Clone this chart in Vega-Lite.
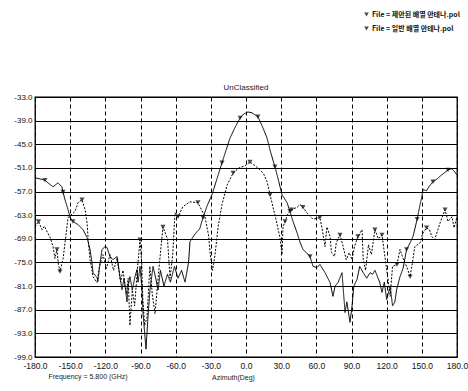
{
  "$schema": "https://vega.github.io/schema/vega-lite/v6.json",
  "width": 422,
  "height": 260,
  "autosize": {"type": "none"},
  "padding": {"left": 35, "top": 97, "right": 11, "bottom": 34},
  "background": "white",
  "title": {"text": "UnClassified", "fontSize": 8, "font": "Liberation Sans", "fontWeight": "normal", "color": "#222", "offset": 4, "dy": 85},
  "config": {
    "view": {"stroke": "black", "strokeWidth": 1.3},
    "axis": {"labelFont": "Liberation Sans", "labelColor": "#111", "labelFontSize": 8.5, "ticks": false, "domain": false, "gridColor": "black", "gridOpacity": 1, "gridWidth": 1}
  },
  "datasets": {
    "pattern": [
      {"series": "File = 제안된 배열 안테나.pol", "az": -180, "db": -53.5},
      {"series": "File = 제안된 배열 안테나.pol", "az": -175.7, "db": -53.8},
      {"series": "File = 제안된 배열 안테나.pol", "az": -171.5, "db": -54.1},
      {"series": "File = 제안된 배열 안테나.pol", "az": -168.9, "db": -54.8},
      {"series": "File = 제안된 배열 안테나.pol", "az": -164.6, "db": -55.8},
      {"series": "File = 제안된 배열 안테나.pol", "az": -160.4, "db": -54.8},
      {"series": "File = 제안된 배열 안테나.pol", "az": -157, "db": -55.8},
      {"series": "File = 제안된 배열 안테나.pol", "az": -156.1, "db": -57.1},
      {"series": "File = 제안된 배열 안테나.pol", "az": -154.4, "db": -59.1},
      {"series": "File = 제안된 배열 안테나.pol", "az": -151.8, "db": -61.6},
      {"series": "File = 제안된 배열 안테나.pol", "az": -150.1, "db": -63.6},
      {"series": "File = 제안된 배열 안테나.pol", "az": -147.6, "db": -64.6},
      {"series": "File = 제안된 배열 안테나.pol", "az": -143.3, "db": -65.4},
      {"series": "File = 제안된 배열 안테나.pol", "az": -139, "db": -66.7},
      {"series": "File = 제안된 배열 안테나.pol", "az": -135.6, "db": -68.7},
      {"series": "File = 제안된 배열 안테나.pol", "az": -133.1, "db": -71.7},
      {"series": "File = 제안된 배열 안테나.pol", "az": -131.4, "db": -75},
      {"series": "File = 제안된 배열 안테나.pol", "az": -130.5, "db": -77.6},
      {"series": "File = 제안된 배열 안테나.pol", "az": -127.1, "db": -78.8},
      {"series": "File = 제안된 배열 안테나.pol", "az": -126.3, "db": -79.8},
      {"series": "File = 제안된 배열 안테나.pol", "az": -124.5, "db": -75},
      {"series": "File = 제안된 배열 안테나.pol", "az": -122.8, "db": -71.7},
      {"series": "File = 제안된 배열 안테나.pol", "az": -120.3, "db": -71},
      {"series": "File = 제안된 배열 안테나.pol", "az": -118.6, "db": -71.2},
      {"series": "File = 제안된 배열 안테나.pol", "az": -116, "db": -73.5},
      {"series": "File = 제안된 배열 안테나.pol", "az": -113.5, "db": -74.3},
      {"series": "File = 제안된 배열 안테나.pol", "az": -110, "db": -73.5},
      {"series": "File = 제안된 배열 안테나.pol", "az": -109.2, "db": -75},
      {"series": "File = 제안된 배열 안테나.pol", "az": -107.5, "db": -78.6},
      {"series": "File = 제안된 배열 안테나.pol", "az": -105.8, "db": -81.9},
      {"series": "File = 제안된 배열 안테나.pol", "az": -104, "db": -79},
      {"series": "File = 제안된 배열 안테나.pol", "az": -101.5, "db": -85},
      {"series": "File = 제안된 배열 안테나.pol", "az": -100.5, "db": -81},
      {"series": "File = 제안된 배열 안테나.pol", "az": -99, "db": -78.6},
      {"series": "File = 제안된 배열 안테나.pol", "az": -97, "db": -82},
      {"series": "File = 제안된 배열 안테나.pol", "az": -94.7, "db": -78.6},
      {"series": "File = 제안된 배열 안테나.pol", "az": -93, "db": -76.8},
      {"series": "File = 제안된 배열 안테나.pol", "az": -92.1, "db": -80},
      {"series": "File = 제안된 배열 안테나.pol", "az": -90.4, "db": -76},
      {"series": "File = 제안된 배열 안테나.pol", "az": -88.7, "db": -81.9},
      {"series": "File = 제안된 배열 안테나.pol", "az": -87.9, "db": -87.7},
      {"series": "File = 제안된 배열 안테나.pol", "az": -86.2, "db": -93.8},
      {"series": "File = 제안된 배열 안테나.pol", "az": -85.3, "db": -97},
      {"series": "File = 제안된 배열 안테나.pol", "az": -83.6, "db": -88.7},
      {"series": "File = 제안된 배열 안테나.pol", "az": -81.9, "db": -81.9},
      {"series": "File = 제안된 배열 안테나.pol", "az": -79.3, "db": -76},
      {"series": "File = 제안된 배열 안테나.pol", "az": -77, "db": -79},
      {"series": "File = 제안된 배열 안테나.pol", "az": -75, "db": -82},
      {"series": "File = 제안된 배열 안테나.pol", "az": -73, "db": -77},
      {"series": "File = 제안된 배열 안테나.pol", "az": -70, "db": -81},
      {"series": "File = 제안된 배열 안테나.pol", "az": -67, "db": -78},
      {"series": "File = 제안된 배열 안테나.pol", "az": -64.5, "db": -80},
      {"series": "File = 제안된 배열 안테나.pol", "az": -61, "db": -76},
      {"series": "File = 제안된 배열 안테나.pol", "az": -58, "db": -79},
      {"series": "File = 제안된 배열 안테나.pol", "az": -55, "db": -77},
      {"series": "File = 제안된 배열 안테나.pol", "az": -52, "db": -80},
      {"series": "File = 제안된 배열 안테나.pol", "az": -49, "db": -75},
      {"series": "File = 제안된 배열 안테나.pol", "az": -47.8, "db": -69.7},
      {"series": "File = 제안된 배열 안테나.pol", "az": -44, "db": -68},
      {"series": "File = 제안된 배열 안테나.pol", "az": -41.8, "db": -67.2},
      {"series": "File = 제안된 배열 안테나.pol", "az": -39.5, "db": -66.5},
      {"series": "File = 제안된 배열 안테나.pol", "az": -36.7, "db": -63.6},
      {"series": "File = 제안된 배열 안테나.pol", "az": -33, "db": -60.5},
      {"series": "File = 제안된 배열 안테나.pol", "az": -29, "db": -57.8},
      {"series": "File = 제안된 배열 안테나.pol", "az": -25, "db": -54},
      {"series": "File = 제안된 배열 안테나.pol", "az": -20.5, "db": -49.7},
      {"series": "File = 제안된 배열 안테나.pol", "az": -17, "db": -46.5},
      {"series": "File = 제안된 배열 안테나.pol", "az": -13.6, "db": -43.4},
      {"series": "File = 제안된 배열 안테나.pol", "az": -9, "db": -40.5},
      {"series": "File = 제안된 배열 안테나.pol", "az": -5, "db": -38.3},
      {"series": "File = 제안된 배열 안테나.pol", "az": -2, "db": -37.3},
      {"series": "File = 제안된 배열 안테나.pol", "az": 1.7, "db": -36.8},
      {"series": "File = 제안된 배열 안테나.pol", "az": 5, "db": -37},
      {"series": "File = 제안된 배열 안테나.pol", "az": 10.2, "db": -38},
      {"series": "File = 제안된 배열 안테나.pol", "az": 14, "db": -40.5},
      {"series": "File = 제안된 배열 안테나.pol", "az": 17.9, "db": -43.4},
      {"series": "File = 제안된 배열 안테나.pol", "az": 21, "db": -47},
      {"series": "File = 제안된 배열 안테나.pol", "az": 24.7, "db": -50.7},
      {"series": "File = 제안된 배열 안테나.pol", "az": 28, "db": -54.5},
      {"series": "File = 제안된 배열 안테나.pol", "az": 30.7, "db": -57.8},
      {"series": "File = 제안된 배열 안테나.pol", "az": 35, "db": -59.8},
      {"series": "File = 제안된 배열 안테나.pol", "az": 37.5, "db": -62},
      {"series": "File = 제안된 배열 안테나.pol", "az": 40, "db": -64.5},
      {"series": "File = 제안된 배열 안테나.pol", "az": 43.5, "db": -67.4},
      {"series": "File = 제안된 배열 안테나.pol", "az": 46, "db": -69.8},
      {"series": "File = 제안된 배열 안테나.pol", "az": 48.6, "db": -71.7},
      {"series": "File = 제안된 배열 안테나.pol", "az": 51.5, "db": -72.5},
      {"series": "File = 제안된 배열 안테나.pol", "az": 54.6, "db": -73.5},
      {"series": "File = 제안된 배열 안테나.pol", "az": 57.2, "db": -76},
      {"series": "File = 제안된 배열 안테나.pol", "az": 60.6, "db": -76.3},
      {"series": "File = 제안된 배열 안테나.pol", "az": 63.1, "db": -75.5},
      {"series": "File = 제안된 배열 안테나.pol", "az": 67.4, "db": -77.6},
      {"series": "File = 제안된 배열 안테나.pol", "az": 71.7, "db": -80.1},
      {"series": "File = 제안된 배열 안테나.pol", "az": 74.2, "db": -83.6},
      {"series": "File = 제안된 배열 안테나.pol", "az": 76, "db": -81},
      {"series": "File = 제안된 배열 안테나.pol", "az": 78.5, "db": -80.1},
      {"series": "File = 제안된 배열 안테나.pol", "az": 81.9, "db": -77.6},
      {"series": "File = 제안된 배열 안테나.pol", "az": 84.5, "db": -87.7},
      {"series": "File = 제안된 배열 안테나.pol", "az": 86, "db": -85},
      {"series": "File = 제안된 배열 안테나.pol", "az": 88.7, "db": -90.2},
      {"series": "File = 제안된 배열 안테나.pol", "az": 90.4, "db": -86.2},
      {"series": "File = 제안된 배열 안테나.pol", "az": 92, "db": -81},
      {"series": "File = 제안된 배열 안테나.pol", "az": 94.7, "db": -79.3},
      {"series": "File = 제안된 배열 안테나.pol", "az": 97, "db": -76},
      {"series": "File = 제안된 배열 안테나.pol", "az": 100, "db": -77.6},
      {"series": "File = 제안된 배열 안테나.pol", "az": 103, "db": -79},
      {"series": "File = 제안된 배열 안테나.pol", "az": 105.8, "db": -77.6},
      {"series": "File = 제안된 배열 안테나.pol", "az": 108, "db": -78},
      {"series": "File = 제안된 배열 안테나.pol", "az": 110, "db": -77},
      {"series": "File = 제안된 배열 안테나.pol", "az": 114, "db": -80},
      {"series": "File = 제안된 배열 안테나.pol", "az": 116, "db": -82.6},
      {"series": "File = 제안된 배열 안테나.pol", "az": 118, "db": -80},
      {"series": "File = 제안된 배열 안테나.pol", "az": 120, "db": -84.4},
      {"series": "File = 제안된 배열 안테나.pol", "az": 123, "db": -81},
      {"series": "File = 제안된 배열 안테나.pol", "az": 125, "db": -86},
      {"series": "File = 제안된 배열 안테나.pol", "az": 127, "db": -85},
      {"series": "File = 제안된 배열 안테나.pol", "az": 128.5, "db": -81.9},
      {"series": "File = 제안된 배열 안테나.pol", "az": 131.4, "db": -78.6},
      {"series": "File = 제안된 배열 안테나.pol", "az": 134, "db": -76.5},
      {"series": "File = 제안된 배열 안테나.pol", "az": 137, "db": -71.7},
      {"series": "File = 제안된 배열 안테나.pol", "az": 140, "db": -70},
      {"series": "File = 제안된 배열 안테나.pol", "az": 142.5, "db": -68.4},
      {"series": "File = 제안된 배열 안테나.pol", "az": 146, "db": -64},
      {"series": "File = 제안된 배열 안테나.pol", "az": 148, "db": -61},
      {"series": "File = 제안된 배열 안테나.pol", "az": 150, "db": -58.3},
      {"series": "File = 제안된 배열 안테나.pol", "az": 151, "db": -56.5},
      {"series": "File = 제안된 배열 안테나.pol", "az": 154, "db": -56.8},
      {"series": "File = 제안된 배열 안테나.pol", "az": 156, "db": -55.8},
      {"series": "File = 제안된 배열 안테나.pol", "az": 159.5, "db": -54.5},
      {"series": "File = 제안된 배열 안테나.pol", "az": 163, "db": -53.8},
      {"series": "File = 제안된 배열 안테나.pol", "az": 166, "db": -53},
      {"series": "File = 제안된 배열 안테나.pol", "az": 169, "db": -52.3},
      {"series": "File = 제안된 배열 안테나.pol", "az": 172.3, "db": -51.5},
      {"series": "File = 제안된 배열 안테나.pol", "az": 175.6, "db": -51.2},
      {"series": "File = 제안된 배열 안테나.pol", "az": 178, "db": -52},
      {"series": "File = 제안된 배열 안테나.pol", "az": 180, "db": -52.8},
      {"series": "File = 일반 배열 안테나.pol", "az": -180, "db": -66},
      {"series": "File = 일반 배열 안테나.pol", "az": -177, "db": -64.6},
      {"series": "File = 일반 배열 안테나.pol", "az": -174, "db": -66.7},
      {"series": "File = 일반 배열 안테나.pol", "az": -172, "db": -65.8},
      {"series": "File = 일반 배열 안테나.pol", "az": -170, "db": -67},
      {"series": "File = 일반 배열 안테나.pol", "az": -167, "db": -68.7},
      {"series": "File = 일반 배열 안테나.pol", "az": -164.6, "db": -71},
      {"series": "File = 일반 배열 안테나.pol", "az": -163, "db": -74},
      {"series": "File = 일반 배열 안테나.pol", "az": -161.3, "db": -71.7},
      {"series": "File = 일반 배열 안테나.pol", "az": -160, "db": -75.5},
      {"series": "File = 일반 배열 안테나.pol", "az": -158.7, "db": -77.3},
      {"series": "File = 일반 배열 안테나.pol", "az": -156, "db": -74},
      {"series": "File = 일반 배열 안테나.pol", "az": -154.4, "db": -70},
      {"series": "File = 일반 배열 안테나.pol", "az": -151.8, "db": -63.6},
      {"series": "File = 일반 배열 안테나.pol", "az": -145.9, "db": -62.1},
      {"series": "File = 일반 배열 안테나.pol", "az": -143.3, "db": -59.8},
      {"series": "File = 일반 배열 안테나.pol", "az": -139.9, "db": -59.1},
      {"series": "File = 일반 배열 안테나.pol", "az": -137.3, "db": -61.6},
      {"series": "File = 일반 배열 안테나.pol", "az": -135.6, "db": -64.9},
      {"series": "File = 일반 배열 안테나.pol", "az": -134.8, "db": -68.4},
      {"series": "File = 일반 배열 안테나.pol", "az": -133.1, "db": -74.3},
      {"series": "File = 일반 배열 안테나.pol", "az": -131.4, "db": -76.8},
      {"series": "File = 일반 배열 안테나.pol", "az": -130.5, "db": -78.6},
      {"series": "File = 일반 배열 안테나.pol", "az": -127.1, "db": -80.1},
      {"series": "File = 일반 배열 안테나.pol", "az": -125, "db": -76},
      {"series": "File = 일반 배열 안테나.pol", "az": -122, "db": -73},
      {"series": "File = 일반 배열 안테나.pol", "az": -119, "db": -76.5},
      {"series": "File = 일반 배열 안테나.pol", "az": -116, "db": -73},
      {"series": "File = 일반 배열 안테나.pol", "az": -113, "db": -77},
      {"series": "File = 일반 배열 안테나.pol", "az": -110, "db": -74},
      {"series": "File = 일반 배열 안테나.pol", "az": -107, "db": -80},
      {"series": "File = 일반 배열 안테나.pol", "az": -105, "db": -77},
      {"series": "File = 일반 배열 안테나.pol", "az": -102, "db": -83},
      {"series": "File = 일반 배열 안테나.pol", "az": -100.5, "db": -79},
      {"series": "File = 일반 배열 안테나.pol", "az": -99, "db": -91},
      {"series": "File = 일반 배열 안테나.pol", "az": -97, "db": -82},
      {"series": "File = 일반 배열 안테나.pol", "az": -95, "db": -86},
      {"series": "File = 일반 배열 안테나.pol", "az": -93, "db": -78},
      {"series": "File = 일반 배열 안테나.pol", "az": -90.4, "db": -69.2},
      {"series": "File = 일반 배열 안테나.pol", "az": -89, "db": -75},
      {"series": "File = 일반 배열 안테나.pol", "az": -88, "db": -84},
      {"series": "File = 일반 배열 안테나.pol", "az": -86.5, "db": -91},
      {"series": "File = 일반 배열 안테나.pol", "az": -84.5, "db": -89},
      {"series": "File = 일반 배열 안테나.pol", "az": -82, "db": -76},
      {"series": "File = 일반 배열 안테나.pol", "az": -80, "db": -83},
      {"series": "File = 일반 배열 안테나.pol", "az": -77.6, "db": -88},
      {"series": "File = 일반 배열 안테나.pol", "az": -75, "db": -79},
      {"series": "File = 일반 배열 안테나.pol", "az": -72.5, "db": -71},
      {"series": "File = 일반 배열 안테나.pol", "az": -70.8, "db": -66},
      {"series": "File = 일반 배열 안테나.pol", "az": -67, "db": -69},
      {"series": "File = 일반 배열 안테나.pol", "az": -64.8, "db": -79},
      {"series": "File = 일반 배열 안테나.pol", "az": -62.5, "db": -73},
      {"series": "File = 일반 배열 안테나.pol", "az": -60.6, "db": -62.4},
      {"series": "File = 일반 배열 안테나.pol", "az": -58, "db": -63.4},
      {"series": "File = 일반 배열 안테나.pol", "az": -53.7, "db": -60.8},
      {"series": "File = 일반 배열 안테나.pol", "az": -47.8, "db": -59.6},
      {"series": "File = 일반 배열 안테나.pol", "az": -41, "db": -59.8},
      {"series": "File = 일반 배열 안테나.pol", "az": -36.7, "db": -62.4},
      {"series": "File = 일반 배열 안테나.pol", "az": -35, "db": -63.4},
      {"series": "File = 일반 배열 안테나.pol", "az": -32, "db": -68},
      {"series": "File = 일반 배열 안테나.pol", "az": -30.5, "db": -73},
      {"series": "File = 일반 배열 안테나.pol", "az": -28.5, "db": -77},
      {"series": "File = 일반 배열 안테나.pol", "az": -26.4, "db": -73},
      {"series": "File = 일반 배열 안테나.pol", "az": -23.8, "db": -66},
      {"series": "File = 일반 배열 안테나.pol", "az": -20.5, "db": -60.3},
      {"series": "File = 일반 배열 안테나.pol", "az": -16, "db": -55.3},
      {"series": "File = 일반 배열 안테나.pol", "az": -11, "db": -52.3},
      {"series": "File = 일반 배열 안테나.pol", "az": -6, "db": -51},
      {"series": "File = 일반 배열 안테나.pol", "az": -1, "db": -50.5},
      {"series": "File = 일반 배열 안테나.pol", "az": 3.4, "db": -49.5},
      {"series": "File = 일반 배열 안테나.pol", "az": 8, "db": -50.5},
      {"series": "File = 일반 배열 안테나.pol", "az": 12, "db": -51.5},
      {"series": "File = 일반 배열 안테나.pol", "az": 15, "db": -52.5},
      {"series": "File = 일반 배열 안테나.pol", "az": 18, "db": -54.5},
      {"series": "File = 일반 배열 안테나.pol", "az": 20.5, "db": -57.8},
      {"series": "File = 일반 배열 안테나.pol", "az": 24.7, "db": -63},
      {"series": "File = 일반 배열 안테나.pol", "az": 27, "db": -66},
      {"series": "File = 일반 배열 안테나.pol", "az": 29, "db": -68.7},
      {"series": "File = 일반 배열 안테나.pol", "az": 30.7, "db": -73},
      {"series": "File = 일반 배열 안테나.pol", "az": 31.6, "db": -66},
      {"series": "File = 일반 배열 안테나.pol", "az": 33.3, "db": -64.6},
      {"series": "File = 일반 배열 안테나.pol", "az": 36, "db": -62.5},
      {"series": "File = 일반 배열 안테나.pol", "az": 39, "db": -61.6},
      {"series": "File = 일반 배열 안테나.pol", "az": 43.5, "db": -61},
      {"series": "File = 일반 배열 안테나.pol", "az": 46, "db": -60.3},
      {"series": "File = 일반 배열 안테나.pol", "az": 48.6, "db": -61},
      {"series": "File = 일반 배열 안테나.pol", "az": 52, "db": -62.4},
      {"series": "File = 일반 배열 안테나.pol", "az": 57, "db": -64},
      {"series": "File = 일반 배열 안테나.pol", "az": 63, "db": -63.6},
      {"series": "File = 일반 배열 안테나.pol", "az": 65, "db": -66.5},
      {"series": "File = 일반 배열 안테나.pol", "az": 67.4, "db": -71},
      {"series": "File = 일반 배열 안테나.pol", "az": 69, "db": -66},
      {"series": "File = 일반 배열 안테나.pol", "az": 71.7, "db": -68.4},
      {"series": "File = 일반 배열 안테나.pol", "az": 73, "db": -72.5},
      {"series": "File = 일반 배열 안테나.pol", "az": 75.5, "db": -73.5},
      {"series": "File = 일반 배열 안테나.pol", "az": 77, "db": -70},
      {"series": "File = 일반 배열 안테나.pol", "az": 80.2, "db": -68},
      {"series": "File = 일반 배열 안테나.pol", "az": 82.5, "db": -70.5},
      {"series": "File = 일반 배열 안테나.pol", "az": 85.5, "db": -74.3},
      {"series": "File = 일반 배열 안테나.pol", "az": 88, "db": -72.5},
      {"series": "File = 일반 배열 안테나.pol", "az": 90.5, "db": -74.3},
      {"series": "File = 일반 배열 안테나.pol", "az": 92.5, "db": -71},
      {"series": "File = 일반 배열 안테나.pol", "az": 95.5, "db": -68.4},
      {"series": "File = 일반 배열 안테나.pol", "az": 99, "db": -66.7},
      {"series": "File = 일반 배열 안테나.pol", "az": 100, "db": -74.3},
      {"series": "File = 일반 배열 안테나.pol", "az": 102, "db": -77},
      {"series": "File = 일반 배열 안테나.pol", "az": 104.5, "db": -70.5},
      {"series": "File = 일반 배열 안테나.pol", "az": 107, "db": -73},
      {"series": "File = 일반 배열 안테나.pol", "az": 110, "db": -66.7},
      {"series": "File = 일반 배열 안테나.pol", "az": 113, "db": -69},
      {"series": "File = 일반 배열 안테나.pol", "az": 116, "db": -68},
      {"series": "File = 일반 배열 안테나.pol", "az": 118.5, "db": -73.5},
      {"series": "File = 일반 배열 안테나.pol", "az": 121, "db": -79},
      {"series": "File = 일반 배열 안테나.pol", "az": 123, "db": -83.6},
      {"series": "File = 일반 배열 안테나.pol", "az": 125, "db": -76},
      {"series": "File = 일반 배열 안테나.pol", "az": 128.8, "db": -75.5},
      {"series": "File = 일반 배열 안테나.pol", "az": 131.4, "db": -71.7},
      {"series": "File = 일반 배열 안테나.pol", "az": 134, "db": -74},
      {"series": "File = 일반 배열 안테나.pol", "az": 137, "db": -76},
      {"series": "File = 일반 배열 안테나.pol", "az": 140, "db": -78.6},
      {"series": "File = 일반 배열 안테나.pol", "az": 142, "db": -75},
      {"series": "File = 일반 배열 안테나.pol", "az": 144, "db": -71},
      {"series": "File = 일반 배열 안테나.pol", "az": 148.5, "db": -70},
      {"series": "File = 일반 배열 안테나.pol", "az": 151, "db": -67.5},
      {"series": "File = 일반 배열 안테나.pol", "az": 154, "db": -66.2},
      {"series": "File = 일반 배열 안테나.pol", "az": 156.5, "db": -66.7},
      {"series": "File = 일반 배열 안테나.pol", "az": 158.5, "db": -68.4},
      {"series": "File = 일반 배열 안테나.pol", "az": 161, "db": -69.2},
      {"series": "File = 일반 배열 안테나.pol", "az": 165.5, "db": -65},
      {"series": "File = 일반 배열 안테나.pol", "az": 169.8, "db": -61.6},
      {"series": "File = 일반 배열 안테나.pol", "az": 172.3, "db": -64.6},
      {"series": "File = 일반 배열 안테나.pol", "az": 175.7, "db": -63.4},
      {"series": "File = 일반 배열 안테나.pol", "az": 177.5, "db": -66.2},
      {"series": "File = 일반 배열 안테나.pol", "az": 180, "db": -63.4}
    ],
    "markers": [
      {"series": "File = 제안된 배열 안테나.pol", "az": -171.5, "db": -54.1},
      {"series": "File = 제안된 배열 안테나.pol", "az": -156.1, "db": -57.1},
      {"series": "File = 제안된 배열 안테나.pol", "az": -147.6, "db": -64.6},
      {"series": "File = 제안된 배열 안테나.pol", "az": -36.7, "db": -63.6},
      {"series": "File = 제안된 배열 안테나.pol", "az": -20.5, "db": -49.7},
      {"series": "File = 제안된 배열 안테나.pol", "az": -5, "db": -38.3},
      {"series": "File = 제안된 배열 안테나.pol", "az": 10.2, "db": -38},
      {"series": "File = 제안된 배열 안테나.pol", "az": 24.7, "db": -50.7},
      {"series": "File = 제안된 배열 안테나.pol", "az": 37.5, "db": -62},
      {"series": "File = 제안된 배열 안테나.pol", "az": 54.6, "db": -73.5},
      {"series": "File = 제안된 배열 안테나.pol", "az": 137, "db": -71.7},
      {"series": "File = 제안된 배열 안테나.pol", "az": 146, "db": -64},
      {"series": "File = 제안된 배열 안테나.pol", "az": 159.5, "db": -54.5},
      {"series": "File = 제안된 배열 안테나.pol", "az": 172.3, "db": -51.5},
      {"series": "File = 일반 배열 안테나.pol", "az": -177, "db": -64.6},
      {"series": "File = 일반 배열 안테나.pol", "az": -161.3, "db": -71.7},
      {"series": "File = 일반 배열 안테나.pol", "az": -158.7, "db": -77.3},
      {"series": "File = 일반 배열 안테나.pol", "az": -139.9, "db": -59.1},
      {"series": "File = 일반 배열 안테나.pol", "az": -90.4, "db": -69.2},
      {"series": "File = 일반 배열 안테나.pol", "az": -70.8, "db": -66},
      {"series": "File = 일반 배열 안테나.pol", "az": -58, "db": -63.4},
      {"series": "File = 일반 배열 안테나.pol", "az": -41, "db": -59.8},
      {"series": "File = 일반 배열 안테나.pol", "az": -11, "db": -52.3},
      {"series": "File = 일반 배열 안테나.pol", "az": 3.4, "db": -49.5},
      {"series": "File = 일반 배열 안테나.pol", "az": 20.5, "db": -57.8},
      {"series": "File = 일반 배열 안테나.pol", "az": 33.3, "db": -64.6},
      {"series": "File = 일반 배열 안테나.pol", "az": 39, "db": -61.6},
      {"series": "File = 일반 배열 안테나.pol", "az": 48.6, "db": -61},
      {"series": "File = 일반 배열 안테나.pol", "az": 63, "db": -63.6},
      {"series": "File = 일반 배열 안테나.pol", "az": 80.2, "db": -68},
      {"series": "File = 일반 배열 안테나.pol", "az": 95.5, "db": -68.4},
      {"series": "File = 일반 배열 안테나.pol", "az": 110, "db": -66.7},
      {"series": "File = 일반 배열 안테나.pol", "az": 116, "db": -68},
      {"series": "File = 일반 배열 안테나.pol", "az": 128.8, "db": -75.5},
      {"series": "File = 일반 배열 안테나.pol", "az": 140, "db": -78.6},
      {"series": "File = 일반 배열 안테나.pol", "az": 154, "db": -66.2},
      {"series": "File = 일반 배열 안테나.pol", "az": 169.8, "db": -61.6}
    ]
  },
  "encoding": {
    "x": {
      "field": "az", "type": "quantitative",
      "scale": {"domain": [-180, 180], "nice": false, "zero": false},
      "axis": {
        "values": [-180, -150, -120, -90, -60, -30, 0, 30, 60, 90, 120, 150, 180],
        "labelExpr": "replace(format(datum.value, '.1f'), '\u2212', '-')",
        "labelPadding": 4, "labelFlush": false,
        "gridDash": [4, 3],
        "title": "Azimuth(Deg)", "titleFont": "Liberation Sans", "titleFontSize": 7, "titleFontWeight": "normal", "titleColor": "#222",
        "titleX": 198, "titleY": 22, "titleAnchor": null, "titleAlign": "center", "titleBaseline": "alphabetic"
      }
    },
    "y": {
      "field": "db", "type": "quantitative",
      "scale": {"domain": [-99, -33], "nice": false, "zero": false},
      "axis": {
        "values": [-33, -39, -45, -51, -57, -63, -69, -75, -81, -87, -93, -99],
        "labelExpr": "replace(format(datum.value, '.1f'), '\u2212', '-')",
        "labelPadding": 3, "labelFontSize": 8, "title": null
      }
    }
  },
  "layer": [
    {
      "data": {"name": "pattern"},
      "mark": {"type": "line", "stroke": "black", "strokeWidth": 1, "clip": true},
      "encoding": {
        "detail": {"field": "series", "type": "nominal"},
        "strokeDash": {
          "field": "series", "type": "nominal", "sort": "descending",
          "scale": {"range": [[1, 0], [2, 1.5]]},
          "legend": null
        }
      }
    },
    {
      "data": {"name": "markers"},
      "mark": {"type": "point", "filled": true, "color": "black", "size": 26},
      "encoding": {
        "shape": {
          "field": "series", "type": "nominal", "sort": "descending",
          "scale": {"range": ["triangle-down", "triangle-down"]},
          "legend": {"orient": "none", "legendX": 328, "legendY": -86, "title": null, "labelFont": "Noto Sans CJK KR", "labelFontSize": 7, "labelFontWeight": "bold", "labelColor": "#111", "symbolSize": 22, "rowPadding": 3, "labelOffset": 2}
        }
      }
    },
    {
      "data": {"values": [{"az": -168.5, "db": -99, "label": "Frequency = 5.800 (GHz)"}]},
      "mark": {"type": "text", "align": "left", "baseline": "alphabetic", "dy": 22, "font": "Liberation Sans", "fontSize": 7, "color": "#222"},
      "encoding": {"text": {"field": "label", "type": "nominal"}}
    }
  ]
}
